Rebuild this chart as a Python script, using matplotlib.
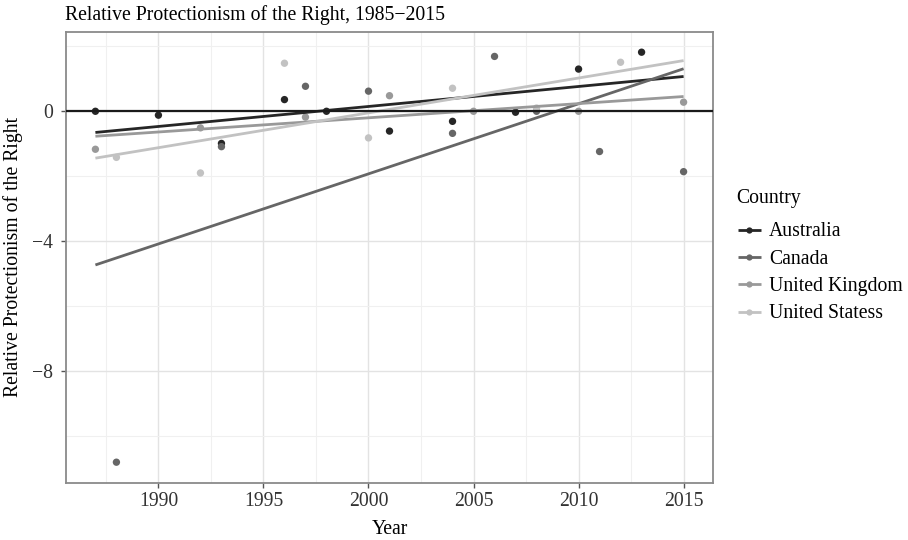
import numpy as np
import matplotlib
matplotlib.use("Agg")
import matplotlib.pyplot as plt
from matplotlib.lines import Line2D
from matplotlib.ticker import MultipleLocator

plt.rcParams["font.family"] = ["Liberation Serif", "DejaVu Serif"]

# Election-year scores by country
countries = ["Australia", "Canada", "United Kingdom", "United Statess"]

aus_years = [1987, 1990, 1993, 1996, 1998, 2001, 2004, 2007, 2010, 2013]
aus_vals = [0.0, -0.12, -0.99, 0.36, 0.0, -0.61, -0.31, -0.03, 1.30, 1.82]

can_years = [1988, 1993, 1997, 2000, 2004, 2006, 2008, 2011, 2015]
can_vals = [-10.81, -1.09, 0.77, 0.62, -0.68, 1.69, 0.0, -1.24, -1.86]

uk_years = [1987, 1992, 1997, 2001, 2005, 2010, 2015]
uk_vals = [-1.17, -0.51, -0.18, 0.48, 0.0, 0.0, 0.28]

us_years = [1988, 1992, 1996, 2000, 2004, 2008, 2012]
us_vals = [-1.42, -1.90, 1.48, -0.82, 0.71, 0.10, 1.51]

colors = ["#262626", "#666666", "#999999", "#c2c2c2"]
series = [
    (aus_years, aus_vals),
    (can_years, can_vals),
    (uk_years, uk_vals),
    (us_years, us_vals),
]

x_ticks = [1990, 1995, 2000, 2005, 2010, 2015]
y_ticks = [0, -4, -8]
y_tick_labels = ["0", "\u22124", "\u22128"]

FS = 14.2
W, H = 908, 540


def fx(px):
    return px / W


def fy(py):
    return 1 - py / H


fig = plt.figure(figsize=(W / 100, H / 100), dpi=100)
ax = fig.add_axes([fx(66), fy(482.7), (713 - 66) / W, (482.7 - 31.7) / H])

all_years = np.concatenate([np.array(s[0]) for s in series])
x_lo, x_hi = all_years.min(), all_years.max()
x_line = np.linspace(x_lo, x_hi, 50)

for (yrs, vals), col in zip(series, colors):
    yrs = np.asarray(yrs, float)
    vals = np.asarray(vals, float)
    ax.scatter(yrs, vals, s=28, color=col, edgecolor="none", zorder=3)
    slope, icpt = np.polyfit(yrs, vals, 1)
    ax.plot(x_line, slope * x_line + icpt, color=col, lw=2.0, zorder=4,
            solid_capstyle="butt")

ax.axhline(0, color="#1a1a1a", lw=1.6, zorder=5)

all_vals = np.concatenate([np.array(s[1]) for s in series])
xr = x_hi - x_lo
yr = all_vals.max() - all_vals.min()
ax.set_xlim(x_lo - 0.05 * xr, x_hi + 0.05 * xr)
ax.set_ylim(all_vals.min() - 0.05 * yr, all_vals.max() + 0.05 * yr)

ax.set_xticks(x_ticks)
ax.set_xticklabels([str(t) for t in x_ticks])
ax.set_yticks(y_ticks)
ax.set_yticklabels(y_tick_labels)
ax.xaxis.set_minor_locator(MultipleLocator(2.5))
ax.yaxis.set_minor_locator(MultipleLocator(2))

ax.grid(which="major", color="#e3e3e3", lw=1.0, zorder=0)
ax.grid(which="minor", color="#f0f0f0", lw=0.8, zorder=0)
ax.set_axisbelow(True)

for sp in ax.spines.values():
    sp.set_color("#8a8a8a")
    sp.set_linewidth(1.3)

ax.tick_params(which="major", length=3.6, width=1, color="#555555",
               labelsize=FS, labelcolor="#333333")
ax.tick_params(axis="x", which="major", pad=3.4)
ax.tick_params(axis="y", which="major", pad=5.5)
ax.tick_params(which="minor", length=0)

# Titles and axis labels
fig.text(fx(65), fy(20), "Relative Protectionism of the Right, 1985\u22122015",
         fontsize=FS, ha="left", va="baseline")
fig.text(fx(389.5), fy(534), "Year", fontsize=FS, ha="center", va="baseline")
fig.text(fx(23.5), fy(257.2), "Relative Protectionism of the Right",
         fontsize=FS, rotation=90, ha="right", va="center")

# Legend
fig.text(fx(736.7), fy(202.5), "Country", fontsize=FS, ha="left", va="baseline")
for i, (name, col) in enumerate(zip(countries, colors)):
    ky = 230 + 27.2 * i
    fig.add_artist(Line2D([fx(738), fx(760.7)], [fy(ky), fy(ky)],
                          transform=fig.transFigure, color=col, lw=2.0,
                          solid_capstyle="butt"))
    fig.add_artist(Line2D([fx(749.3)], [fy(ky)], transform=fig.transFigure,
                          color=col, marker="o", markersize=4.5,
                          markeredgecolor="none", linestyle="none"))
    fig.text(fx(769.3), fy(ky + 6.4), name, fontsize=FS, ha="left",
             va="baseline")

fig.savefig("out.png", dpi=100)
